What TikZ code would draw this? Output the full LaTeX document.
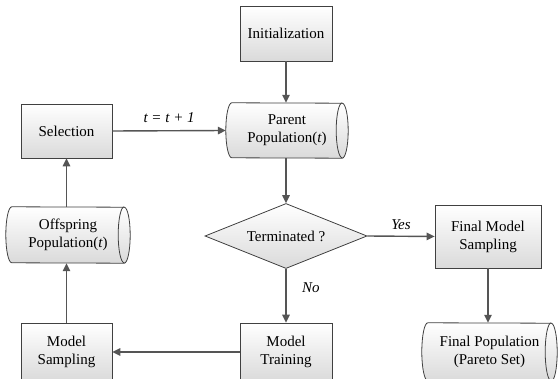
\documentclass[tikz,border=0pt]{standalone}
\usepackage{fontspec}
\setmainfont{Liberation Serif}
\newfontfamily\tnr{Liberation Serif}
\usetikzlibrary{arrows.meta,shapes.geometric,shadows,backgrounds}
\definecolor{boxline}{HTML}{404040}
\definecolor{arrowline}{HTML}{555555}
\definecolor{fillgray}{HTML}{DADADA}
\newcommand\mycyl[2]{%
  \begin{scope}[on background layer]
    \path[top color=white,bottom color=fillgray]
      ([xshift=6pt]#1.north west) arc[start angle=90,end angle=270,x radius=6pt,y radius=#2]
      -- ([xshift=-6pt]#1.south east) arc[start angle=-90,end angle=90,x radius=6pt,y radius=#2] -- cycle;
    \draw[draw=boxline,line width=0.8pt]
      ([xshift=6pt]#1.north west) arc[start angle=90,end angle=270,x radius=6pt,y radius=#2]
      -- ([xshift=-6pt]#1.south east) arc[start angle=-90,end angle=90,x radius=6pt,y radius=#2] -- cycle;
    \draw[draw=boxline,line width=0.8pt]
      ([xshift=-6pt]#1.north east) arc[start angle=90,end angle=270,x radius=6pt,y radius=#2];
  \end{scope}}
\begin{document}
\begin{tikzpicture}[x=1pt,y=1pt,
  font=\tnr\fontsize{15}{18}\selectfont,
  procbox/.style={draw=boxline,line width=0.8pt,top color=white,bottom color=fillgray,
    align=center,inner sep=0pt,
    drop shadow={shadow xshift=1.2pt,shadow yshift=-1.2pt,fill=black!40,opacity=0.5}},
  cylbox/.style={align=center,inner sep=0pt},
  decbox/.style={diamond,draw=boxline,line width=0.8pt,top color=white,bottom color=fillgray,
    align=center,inner sep=0pt,aspect=2.5},
  flow/.style={draw=arrowline,line width=1.4pt,-{Triangle[length=8pt,width=7.5pt]}},
  lbl/.style={font=\tnr\fontsize{15}{18}\selectfont\itshape}
]
\useasboundingbox (0,0) rectangle (560,378);
\clip (0,0) rectangle (560,378);

\node[procbox,minimum width=92pt,minimum height=55pt] (init) at (286,344.5) {Initialization};
\node[cylbox,minimum width=122pt,minimum height=55pt] (parent) at (287,247.5) {Parent\\Population(\textit{t})};
\mycyl{parent}{27.5pt}
\node[procbox,minimum width=91pt,minimum height=54pt] (sel) at (66.5,247) {Selection};
\node[cylbox,minimum width=124pt,minimum height=56pt] (off) at (68,143) {Offspring\\Population(\textit{t})};
\mycyl{off}{28pt}
\node[decbox,minimum width=162pt,minimum height=65pt] (term) at (286,142) {Terminated ?};
\node[procbox,minimum width=106pt,minimum height=63pt] (fms) at (488,141.5) {Final Model\\Sampling};
\node[cylbox,minimum width=135pt,minimum height=58pt] (fp) at (489.5,26) {Final Population\\(Pareto Set)};
\mycyl{fp}{29pt}
\node[procbox,minimum width=91pt,minimum height=58pt] (msamp) at (66.5,26) {Model\\Sampling};
\node[procbox,minimum width=92pt,minimum height=58pt] (mtrain) at (286,26) {Model\\Training};

\draw[flow] (init.south) -- (init.south |- parent.north);
\draw[flow] (sel.east) -- (parent.west) node[lbl,midway,above=4pt] (tl) {t = t + 1};
\draw[flow] (term.north |- parent.south) -- (term.north);
\draw[flow] (term.east) -- (fms.west) node[lbl,midway,above=3pt] (yes) {Yes};
\draw[flow] (term.south) -- (mtrain.north) node[lbl,pos=0.35,right=12pt] (no) {No};
\draw[flow] (mtrain.west) -- (msamp.east);
\draw[flow] (msamp.north) -- (msamp.north |- off.south);
\draw[flow] (sel.south |- off.north) -- (sel.south);
\draw[flow] (fms.south) -- (fms.south |- fp.north);
\end{tikzpicture}
\end{document}
